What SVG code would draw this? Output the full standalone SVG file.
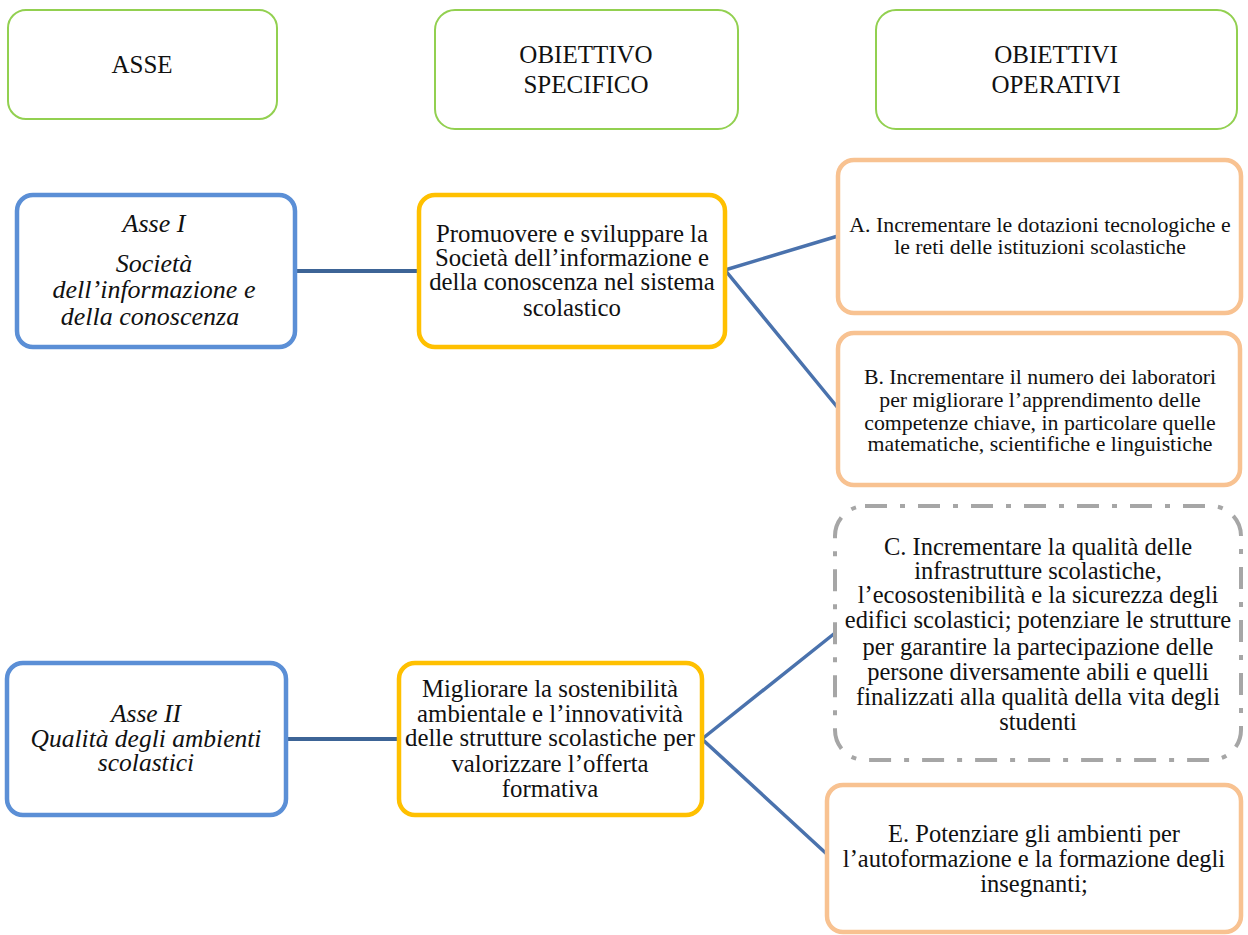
<svg xmlns="http://www.w3.org/2000/svg" width="1248" height="935" viewBox="0 0 1248 935">
  <style>
    text { font-family: "Liberation Serif", "Times New Roman", serif; fill: #111; text-anchor: middle; }
    .hdr rect { fill: #fff; stroke: #92D050; stroke-width: 2; }
    .hdr text { font-size: 25px; }
    .asse rect { fill: #fff; stroke: #5B8FD6; stroke-width: 4.5; }
    .asse text { font-size: 26px; font-style: italic; }
    .asse.two text { font-size: 25.5px; }
    .spec rect { fill: #fff; stroke: #FFC000; stroke-width: 4.5; }
    .spec text { font-size: 24.8px; }
    .oper rect { fill: #fff; stroke: #F8C291; stroke-width: 4.5; }
    .oper text { font-size: 21.8px; }
    .oper.big text { font-size: 24.5px; }
    .dash rect { fill: #fff; stroke: #A6A6A6; stroke-width: 4; stroke-dasharray: 22 13 5 13; }
    .dash text { font-size: 24.5px; }
    .link-h { stroke: #3D6496; stroke-width: 4; fill: none; }
    .link-d { stroke: #4A72AD; stroke-width: 3.5; fill: none; }
  </style>

  <!-- column headers -->
  <g id="hdr-asse" class="hdr">
    <rect x="8" y="10" width="269" height="109" rx="18"/>
    <text x="142" y="73">ASSE</text>
  </g>
  <g id="hdr-specifico" class="hdr">
    <rect x="435" y="10" width="303" height="119" rx="20"/>
    <text x="586" y="63">OBIETTIVO</text>
    <text x="586" y="93">SPECIFICO</text>
  </g>
  <g id="hdr-operativi" class="hdr">
    <rect x="876" y="10" width="361" height="119" rx="20"/>
    <text x="1056" y="63">OBIETTIVI</text>
    <text x="1056" y="93">OPERATIVI</text>
  </g>

  <!-- connectors -->
  <g id="connectors">
    <line class="link-h" x1="295" y1="271" x2="419" y2="271"/>
    <polyline class="link-d" points="838,236 725,270 838,408"/>
    <line class="link-h" x1="286" y1="739" x2="399" y2="739"/>
    <polyline class="link-d" points="835,633 702,739 830,857"/>
  </g>

  <!-- Asse I -->
  <g id="asse-1" class="asse">
    <rect x="17" y="195" width="278" height="152" rx="16"/>
    <text x="154" y="232">Asse I</text>
    <text x="154" y="272">Società</text>
    <text x="154" y="298">dell’informazione  e</text>
    <text x="150" y="325">della conoscenza</text>
  </g>

  <g id="specifico-1" class="spec">
    <rect x="419" y="195" width="306" height="152" rx="16"/>
    <text x="572" y="242">Promuovere e sviluppare la</text>
    <text x="572" y="266">Società dell’informazione e</text>
    <text x="572" y="290">della conoscenza nel sistema</text>
    <text x="572" y="316">scolastico</text>
  </g>

  <g id="operativo-a" class="oper">
    <rect x="838" y="160" width="403" height="153" rx="16"/>
    <text x="1040" y="232">A. Incrementare le dotazioni tecnologiche e</text>
    <text x="1040" y="254">le reti delle istituzioni scolastiche</text>
  </g>

  <g id="operativo-b" class="oper">
    <rect x="838" y="333" width="402" height="152" rx="16"/>
    <text x="1040" y="384">B. Incrementare il numero dei laboratori</text>
    <text x="1040" y="407">per migliorare  l’apprendimento delle</text>
    <text x="1040" y="430">competenze chiave, in particolare quelle</text>
    <text x="1040" y="451">matematiche, scientifiche e linguistiche</text>
  </g>

  <!-- Asse II -->
  <g id="asse-2" class="asse two">
    <rect x="7" y="663" width="279" height="152" rx="16"/>
    <text x="146" y="722">Asse II</text>
    <text x="146" y="747">Qualità degli ambienti</text>
    <text x="146" y="771">scolastici</text>
  </g>

  <g id="specifico-2" class="spec">
    <rect x="399" y="663" width="303" height="152" rx="16"/>
    <text x="550" y="697">Migliorare la sostenibilità</text>
    <text x="550" y="722">ambientale e l’innovatività</text>
    <text x="550" y="746">delle strutture scolastiche per</text>
    <text x="550" y="772">valorizzare l’offerta</text>
    <text x="550" y="797">formativa</text>
  </g>

  <g id="operativo-c" class="dash">
    <rect x="835" y="506" width="406" height="254" rx="30"/>
    <text x="1038" y="555">C. Incrementare la qualità delle</text>
    <text x="1038" y="579">infrastrutture scolastiche,</text>
    <text x="1038" y="603">l’ecosostenibilità e la sicurezza degli</text>
    <text x="1038" y="628">edifici scolastici; potenziare le strutture</text>
    <text x="1038" y="655">per garantire la partecipazione delle</text>
    <text x="1038" y="680">persone diversamente abili e quelli</text>
    <text x="1038" y="705">finalizzati alla qualità della vita  degli</text>
    <text x="1038" y="730">studenti</text>
  </g>

  <g id="operativo-e" class="oper big">
    <rect x="827" y="785" width="414" height="147" rx="16"/>
    <text x="1034" y="842">E. Potenziare gli ambienti per</text>
    <text x="1034" y="867">l’autoformazione e la formazione degli</text>
    <text x="1034" y="892">insegnanti;</text>
  </g>
</svg>
